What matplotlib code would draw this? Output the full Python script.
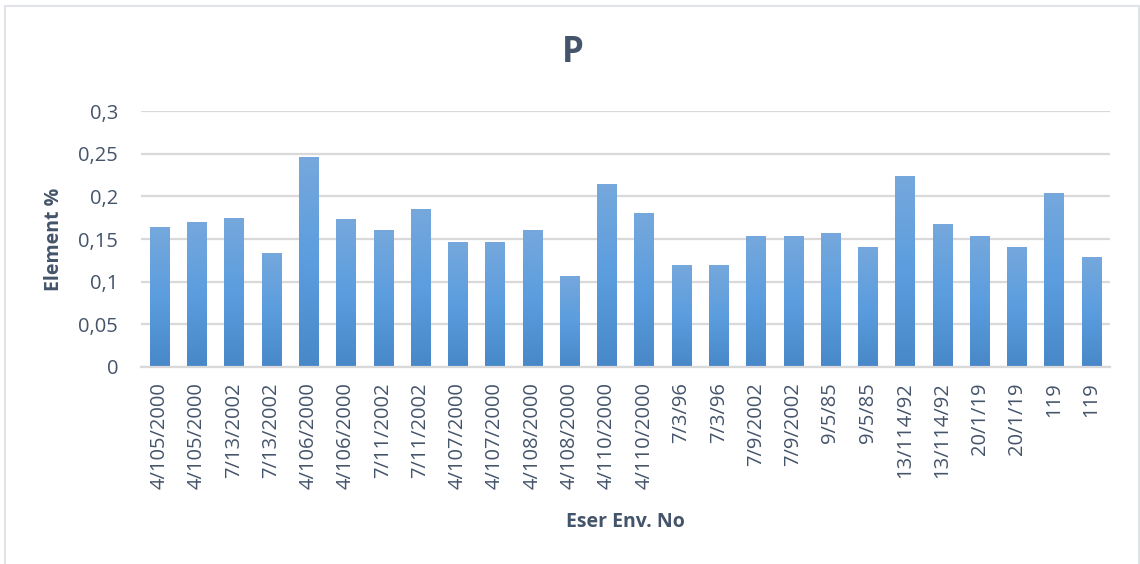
import numpy as np
import matplotlib.pyplot as plt
from matplotlib.patches import Rectangle
from matplotlib.colors import LinearSegmentedColormap
from matplotlib.ticker import FuncFormatter

plt.rcParams['font.family'] = ['Open Sans', 'DejaVu Sans']

# sample ids along the x axis (each measured twice)
labels = ['4/105/2000', '4/105/2000', '7/13/2002', '7/13/2002', '4/106/2000',
          '4/106/2000', '7/11/2002', '7/11/2002', '4/107/2000', '4/107/2000',
          '4/108/2000', '4/108/2000', '4/110/2000', '4/110/2000', '7/3/96',
          '7/3/96', '7/9/2002', '7/9/2002', '9/5/85', '9/5/85', '13/114/92',
          '13/114/92', '20/1/19', '20/1/19', '119', '119']
p_values = [0.164, 0.170, 0.175, 0.134, 0.246, 0.173, 0.160, 0.185, 0.147, 0.146,
            0.160, 0.107, 0.215, 0.180, 0.120, 0.119, 0.154, 0.153, 0.157, 0.141,
            0.224, 0.168, 0.154, 0.141, 0.204, 0.129]
y_ticks = [0, 0.05, 0.1, 0.15, 0.2, 0.25, 0.3]

text_col = '#44546a'
grid_col = '#d9d9d9'

fig = plt.figure(figsize=(11.4, 5.64), dpi=100)
# chart frame
fig.patches.append(Rectangle((5 / 1140, -0.01), 1134 / 1140, 1 - 6 / 564 + 0.01,
                             transform=fig.transFigure, fill=False,
                             edgecolor='#e0e3e8', linewidth=1.5))

ax = fig.add_axes([141 / 1140, 1 - 367 / 564, 969 / 1140, 256 / 564])

x = np.arange(len(p_values))
bars = ax.bar(x, p_values, width=0.52, color='none', edgecolor='none', zorder=2)

# Excel-like vertical gradient inside each bar
grad_cmap = LinearSegmentedColormap.from_list('g', ['#4888c8', '#5b9ddf', '#76a8dc'])
grad = np.linspace(0, 1, 256).reshape(-1, 1)
for b in bars:
    x0, y0 = b.get_x(), b.get_y()
    w, h = b.get_width(), b.get_height()
    im = ax.imshow(grad, cmap=grad_cmap, origin='lower', aspect='auto',
                   extent=[x0, x0 + w, y0, y0 + h], zorder=2)
    im.set_clip_path(b)

ax.set_xlim(-0.5, len(p_values) - 0.5)
ax.set_ylim(0, 0.3)
ax.set_yticks(y_ticks)
ax.yaxis.set_major_formatter(FuncFormatter(lambda v, _: f'{v:g}'.replace('.', ',')))
ax.set_xticks(x)
ax.set_xticklabels(labels, rotation=90)

ax.grid(axis='y', color=grid_col, linewidth=1.6, zorder=0)
ax.set_axisbelow(True)
for s in ['top', 'right', 'left']:
    ax.spines[s].set_visible(False)
ax.spines['bottom'].set_color(grid_col)
ax.spines['bottom'].set_linewidth(1.6)
ax.tick_params(axis='both', length=0, labelsize=14.5, colors=text_col)
ax.tick_params(axis='y', pad=16.5)
ax.tick_params(axis='x', pad=11)

ax.set_ylabel('Element %', fontsize=14, fontweight='bold', color=text_col)
ax.yaxis.set_label_coords(-0.079, 0.5)
fig.text(0.5 * (141 + 1110) / 1140, 1 - 522 / 564, 'Eser Env. No', fontsize=14,
         fontweight='bold', color=text_col, ha='center', va='center')
fig.text(573 / 1140, 1 - 53 / 564, 'P', fontsize=25, fontweight='bold',
         color=text_col, ha='center', va='center')

fig.savefig('out.png', dpi=100)
